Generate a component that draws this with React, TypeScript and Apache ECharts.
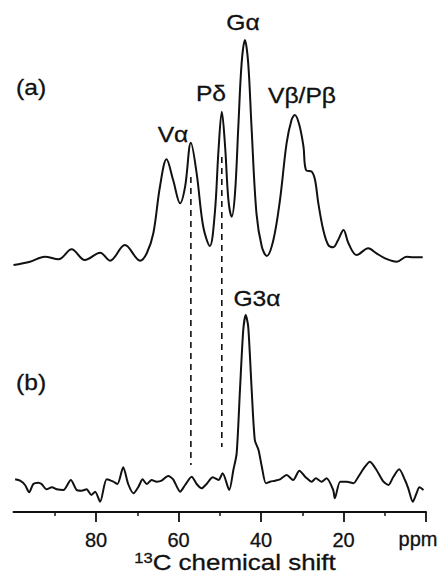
import React, { useEffect, useRef } from "react";
import * as echarts from "echarts";

// Trace (a): chemical shift (ppm) and plotted height
const aPpm = [100.0, 96.0, 92.4, 89.1, 85.9, 82.7, 79.0, 76.6, 73.0, 69.3, 67.7, 66.1, 64.5, 62.9, 61.3, 59.6, 58.4, 57.0, 55.6, 54.0, 52.4, 51.2, 50.3, 49.5, 48.7, 47.9, 47.1, 46.3, 45.5, 44.7, 43.9, 43.1, 42.3, 41.1, 39.8, 38.6, 37.0, 35.4, 33.8, 32.6, 31.8, 30.7, 29.7, 29.1, 27.7, 26.9, 26.1, 24.9, 23.7, 22.5, 21.3, 20.0, 18.8, 16.8, 14.0, 12.0, 9.9, 7.1, 4.7, 3.1, 0.8];
const aInt = [247, 250.3, 255.3, 252.7, 262.7, 252, 259.3, 251.3, 267, 251.3, 258.7, 278.7, 325.3, 352.7, 332, 308.7, 325.3, 369.3, 338.7, 285.3, 266, 298.7, 362, 400.3, 365.3, 312, 295.3, 318.7, 385.3, 448.7, 472, 448.7, 385.3, 298.7, 265.3, 256, 272, 312, 368.7, 392, 397, 387, 365.3, 342, 340.3, 332, 308.7, 282, 267, 264.7, 272, 282, 268.7, 257, 263.7, 258.7, 253.7, 250.3, 255.3, 254.7, 254.7];

// Trace (b)
const bPpm = [99.6, 98.4, 97.2, 96.2, 95.2, 94.0, 93.2, 92.0, 90.7, 89.5, 87.9, 86.1, 84.7, 83.5, 82.3, 81.1, 80.2, 79.0, 77.4, 75.8, 74.8, 73.4, 72.2, 70.9, 69.7, 68.7, 67.7, 66.5, 65.3, 64.1, 62.5, 61.3, 59.6, 58.4, 56.8, 55.6, 54.4, 53.2, 51.7, 50.3, 49.3, 47.7, 46.7, 45.9, 45.1, 44.3, 43.7, 43.1, 42.3, 41.5, 40.6, 39.8, 38.8, 37.8, 36.6, 35.4, 33.8, 32.2, 30.7, 29.3, 27.7, 26.7, 25.3, 24.1, 22.5, 22.1, 20.8, 19.2, 17.6, 16.4, 14.8, 13.6, 12.0, 10.3, 9.1, 7.9, 6.5, 5.1, 4.3, 3.2, 2.3, 1.6, 0.6];
const bInt = [32.7, 31.3, 27, 19.7, 28, 29.3, 28, 22.7, 24.7, 22.7, 22, 32, 22, 21.3, 22.7, 17, 20.3, 10.3, 32.7, 30.3, 28, 44.7, 28, 18.7, 25.3, 32.7, 28, 32, 30.3, 31.3, 36, 32.7, 20.3, 27, 35.3, 28, 23.7, 28, 34.7, 32, 38.7, 22, 42, 58.7, 122, 182, 197, 185.3, 125.3, 72, 62, 45.3, 28.7, 30.3, 31.3, 32.7, 37, 32, 41.3, 35.3, 30.3, 33.7, 30.3, 33.7, 22, 13.7, 30.3, 30.3, 28.7, 35.3, 45.3, 50.3, 42, 30.3, 27, 35.3, 42.7, 32, 23.7, 10.3, 18.7, 24.7, 22];

// Dashed guide lines
const dashPpm = [57, 49.5];
const dashTop = [335, 355];
const dashBottom = [47, 65];

// Axis ticks
const majorTicks = [0, 20, 40, 60, 80];

const FONT = "Liberation Sans, Arial, Helvetica, sans-serif";
const INK = "#111";

export default function App() {
  const ref = useRef<HTMLDivElement>(null);
  useEffect(() => {
    if (!ref.current) return;
    const chart = echarts.init(ref.current, null, { renderer: "svg" });
    const lineA = aPpm.map((p, i) => [p, aInt[i]]);
    const lineB = bPpm.map((p, i) => [p, bInt[i]]);
    const dashSeries = dashPpm.map((p, i) => ({
      type: "line",
      data: [[p, dashTop[i]], [p, dashBottom[i]]],
      symbol: "none",
      lineStyle: { color: INK, width: 1.6, type: [6, 5] },
      z: 1,
    }));
    const txt = (text: string, x: number, y: number, size = 22, align = "center", sx = 1.12) => ({
      type: "text",
      x,
      y,
      scaleX: sx,
      style: {
        text,
        fontSize: size,
        fontFamily: FONT,
        fill: INK,
        stroke: INK,
        lineWidth: 0.3,
        align,
        verticalAlign: "middle",
      },
    });
    chart.setOption({
      animation: false,
      grid: { left: 13.5, right: 13, top: 0, bottom: 63 },
      xAxis: {
        type: "value",
        min: 0,
        max: 100,
        interval: 20,
        inverse: true,
        axisLine: { show: true, lineStyle: { color: INK, width: 2 } },
        axisTick: { show: true, length: 10, lineStyle: { color: INK, width: 1.8 }, customValues: majorTicks },
        minorTick: { show: true, splitNumber: 2, length: 4, lineStyle: { color: INK, width: 1.5 } },
        axisLabel: {
          customValues: majorTicks,
          margin: 18,
          fontSize: 20,
          fontFamily: FONT,
          color: INK,
          textBorderColor: INK,
          textBorderWidth: 0.3,
          formatter: (v: number) => (v === 0 ? "" : String(v)),
        },
        splitLine: { show: false },
        minorSplitLine: { show: false },
      },
      yAxis: { type: "value", min: 0, max: 512, show: false },
      series: [
        { type: "line", data: lineA, symbol: "none", smooth: 0.35, lineStyle: { color: INK, width: 2 }, z: 2 },
        { type: "line", data: lineB, symbol: "none", smooth: 0.25, lineStyle: { color: INK, width: 2 }, z: 2 },
        ...dashSeries,
      ],
      graphic: [
        txt("(a)", 16, 87, 22, "left"),
        txt("Vα", 173, 134),
        txt("Pδ", 211, 93),
        txt("Gα", 243, 22),
        txt("Vβ/Pβ", 302, 95),
        txt("(b)", 16, 382, 22, "left"),
        txt("G3α", 257, 298),
        txt("ppm", 418, 539, 20, "center", 1.0),
        {
          type: "text",
          x: 235,
          y: 562,
          scaleX: 1.18,
          style: {
            text: "{s|13}{m|C chemical shift}",
            align: "center",
            verticalAlign: "middle",
            fill: INK,
            stroke: INK,
            lineWidth: 0.3,
            rich: {
              s: { fontSize: 14, fontFamily: FONT, fill: INK, verticalAlign: "top", padding: [0, 0, 8, 0] },
              m: { fontSize: 22, fontFamily: FONT, fill: INK },
            },
          },
        },
      ],
    });
    return () => chart.dispose();
  }, []);
  return <div ref={ref} style={{ position: "fixed", left: 0, top: 0, width: 439, height: 575, background: "#fff" }} />;
}
